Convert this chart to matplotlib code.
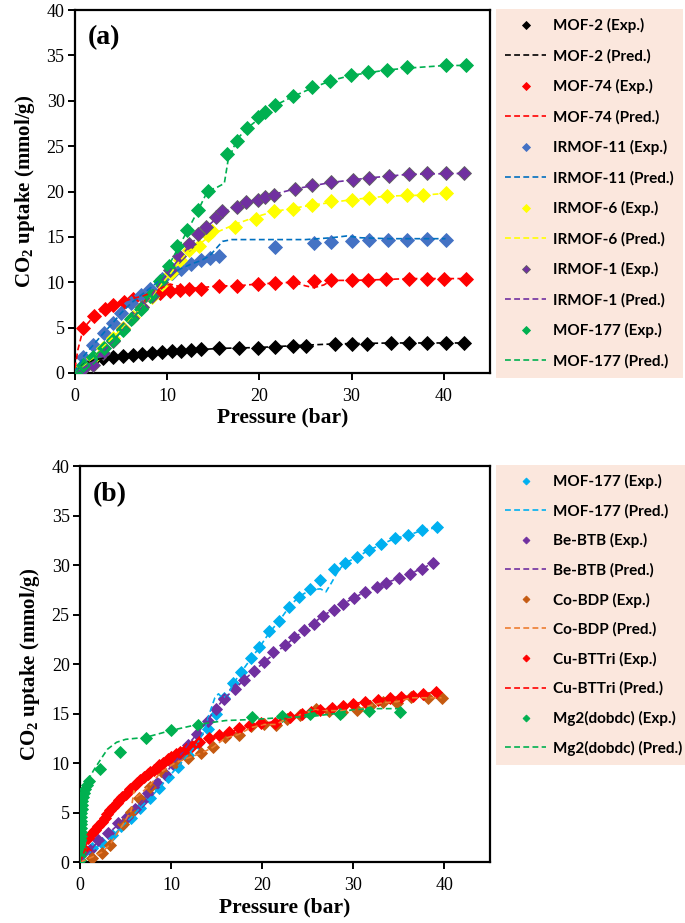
import matplotlib
matplotlib.use('Agg')
import matplotlib.pyplot as plt

# ---------- panel (a) data ----------
mof2_p = [2.0, 3.0, 4.1, 5.2, 6.3, 7.3, 8.3, 9.4, 10.5, 11.5, 12.6, 13.7, 15.6, 17.8, 19.9, 21.7,
          23.7, 25.1, 28.2, 30.0, 31.7, 34.3, 36.2, 38.2, 40.2, 42.2]
mof2_u = [1.4, 1.6, 1.8, 1.9, 2.0, 2.1, 2.2, 2.3, 2.4, 2.4, 2.5, 2.6, 2.7, 2.7, 2.8, 2.9,
          3.0, 3.0, 3.2, 3.2, 3.2, 3.3, 3.3, 3.3, 3.3, 3.3]
mof2_pred_p = [0, 0.5, 1.0, 2.0, 3.0, 4.1, 6.3, 9.4, 12.6, 15.6, 19.9, 23.7, 28.2, 34.3, 42.2]
mof2_pred_u = [0, 0.6, 1.0, 1.4, 1.6, 1.8, 2.0, 2.3, 2.5, 2.7, 2.8, 3.0, 3.2, 3.3, 3.3]

mof74_p = [0.9, 2.1, 3.2, 4.1, 5.3, 6.3, 7.4, 8.2, 9.2, 10.3, 11.4, 12.4, 13.7, 15.6, 17.6, 19.8,
           21.7, 23.7, 25.9, 27.8, 30.1, 31.8, 33.7, 36.2, 38.2, 40.0, 42.4]
mof74_u = [4.9, 6.3, 7.1, 7.5, 7.8, 8.2, 8.4, 8.6, 8.8, 9.0, 9.1, 9.3, 9.3, 9.6, 9.6, 9.8,
           9.9, 10.0, 10.1, 10.2, 10.2, 10.2, 10.3, 10.4, 10.4, 10.4, 10.4]
mof74_pred_p = [0, 0.3, 0.9, 2.1, 3.2, 4.1, 5.3, 6.3, 7.4, 8.2, 9.2, 10.3, 11.4, 12.4, 13.7, 15.6,
                17.6, 19.8, 21.7, 23.7, 25.0, 25.9, 27.0, 27.8, 30.1, 33.7, 36.2, 42.4]
mof74_pred_u = [0.5, 2.5, 4.9, 6.3, 7.1, 7.5, 7.9, 8.2, 8.5, 8.8, 9.3, 9.8, 9.5, 9.3, 9.4, 9.6,
                9.6, 9.8, 9.9, 10.0, 9.6, 9.4, 9.7, 10.2, 10.2, 10.3, 10.4, 10.4]

irmof11_p = [0.9, 2.0, 3.1, 4.1, 5.0, 6.1, 7.2, 8.1, 9.4, 10.5, 11.5, 12.6, 13.7, 14.6, 15.6,
             21.7, 25.9, 27.8, 30.0, 31.9, 34.0, 36.0, 38.2, 40.2]
irmof11_u = [1.8, 3.1, 4.4, 5.5, 6.6, 7.7, 8.6, 9.3, 10.4, 11.0, 11.5, 12.0, 12.4, 12.7, 12.9,
             13.9, 14.3, 14.4, 14.5, 14.7, 14.7, 14.7, 14.8, 14.7]
irmof11_pred_p = [0, 0.9, 2.0, 3.1, 4.1, 5.0, 6.1, 7.2, 8.1, 9.4, 10.5, 11.5, 12.6, 13.7, 14.6,
                  15.3, 16.0, 17.0, 19.0, 21.7, 25.0, 27.8, 29.5, 31.0, 34.0, 40.2]
irmof11_pred_u = [0, 1.8, 3.1, 4.4, 5.5, 6.6, 7.7, 8.6, 9.3, 10.4, 11.0, 11.5, 12.0, 12.4, 12.9,
                  13.7, 14.5, 14.7, 14.7, 14.7, 14.7, 14.9, 15.1, 14.9, 14.8, 14.8]

irmof6_p = [0.9, 2.0, 3.0, 4.1, 5.2, 6.3, 7.3, 8.3, 9.4, 10.4, 11.4, 12.4, 13.5, 14.4, 14.9,
            17.4, 19.6, 21.6, 23.6, 25.7, 27.8, 30.0, 31.9, 33.9, 36.0, 37.8, 40.2]
irmof6_u = [0.8, 1.6, 2.8, 3.9, 5.0, 6.2, 7.3, 8.4, 9.8, 11.0, 12.5, 13.6, 14.0, 15.2, 15.7,
            16.1, 17.0, 17.8, 18.1, 18.5, 18.9, 19.1, 19.3, 19.5, 19.6, 19.6, 19.8]
irmof6_pred_p = [0, 0.9, 2.0, 3.0, 4.1, 5.2, 6.3, 7.3, 8.3, 9.4, 10.4, 11.4, 12.4, 13.5, 14.9,
                 17.4, 19.6, 21.6, 25.7, 30.0, 33.9, 37.8, 40.2]
irmof6_pred_u = [0, 0.8, 1.7, 2.8, 3.9, 5.0, 6.2, 7.3, 8.4, 9.8, 11.0, 12.4, 13.5, 14.2, 15.3,
                 16.4, 17.2, 17.8, 18.5, 19.1, 19.5, 19.6, 19.8]

irmof1_p = [1.0, 2.0, 3.0, 4.1, 5.2, 6.2, 7.3, 8.3, 9.3, 10.3, 11.3, 12.4, 13.3, 14.2, 15.3, 16.0,
            17.6, 18.6, 19.8, 20.6, 21.6, 23.9, 25.7, 27.8, 30.2, 31.9, 34.1, 36.2, 38.2, 40.2, 42.2]
irmof1_u = [0.5, 0.9, 2.2, 3.5, 4.8, 6.0, 7.3, 8.5, 10.0, 11.4, 12.9, 14.2, 15.3, 16.1, 17.2, 17.8,
            18.3, 18.8, 19.1, 19.4, 19.6, 20.3, 20.7, 21.0, 21.3, 21.5, 21.7, 21.9, 22.0, 22.0, 22.0]
irmof1_pred_p = [0, 1.0, 2.0, 3.0, 4.1, 5.2, 6.2, 7.3, 8.3, 9.3, 10.3, 11.3, 12.4, 13.3, 14.2,
                 15.3, 16.0, 17.6, 19.8, 21.6, 23.9, 27.8, 31.9, 36.2, 42.2]
irmof1_pred_u = [0, 0.6, 1.2, 2.3, 3.5, 4.8, 6.0, 7.3, 8.5, 10.0, 11.3, 12.6, 14.0, 15.0, 16.0,
                 17.0, 17.7, 18.4, 19.2, 19.7, 20.3, 21.0, 21.5, 21.9, 22.0]

mof177a_p = [0, 0.9, 2.0, 3.1, 4.1, 5.2, 6.1, 7.2, 8.1, 9.2, 10.2, 11.1, 12.2, 13.3, 14.4, 16.5,
             17.6, 18.7, 19.8, 20.6, 21.7, 23.7, 25.7, 27.7, 29.9, 31.8, 33.8, 36.0, 40.2, 42.4]
mof177a_u = [0, 0.9, 1.8, 2.7, 3.6, 4.7, 5.9, 7.0, 8.5, 10.1, 11.8, 14.0, 15.8, 18.0, 20.1, 24.1,
             25.6, 27.0, 28.2, 28.8, 29.5, 30.5, 31.5, 32.2, 32.8, 33.2, 33.4, 33.7, 33.9, 33.9]
mof177a_pred_p = [0, 0.9, 2.0, 3.1, 4.1, 5.2, 6.1, 7.2, 8.1, 9.2, 10.2, 11.1, 12.2, 13.3, 14.4,
                  15.3, 16.2, 16.6, 17.6, 18.7, 19.8, 20.6, 21.7, 23.7, 25.7, 27.7, 29.9, 33.8, 36.0,
                  40.2, 42.4]
mof177a_pred_u = [0, 0.9, 1.8, 2.7, 3.6, 4.7, 5.9, 7.0, 8.6, 10.1, 11.9, 13.6, 15.7, 17.8, 20.1,
                  20.4, 20.9, 23.4, 25.8, 27.0, 27.9, 28.7, 29.5, 30.5, 31.4, 32.2, 32.8, 33.4, 33.6,
                  33.9, 33.9]

# ---------- panel (b) data ----------
mof177b_p = [1.3, 2.4, 3.5, 4.5, 5.6, 6.6, 7.7, 8.7, 9.6, 10.7, 11.8, 12.9, 14.0, 14.9, 15.8, 16.8,
             17.7, 18.8, 19.7, 20.8, 21.9, 22.9, 24.0, 25.3, 26.4, 27.9, 29.1, 30.4, 31.7, 33.1,
             34.6, 36.0, 37.5, 39.2]
mof177b_u = [1.4, 1.9, 2.7, 3.6, 4.5, 5.5, 6.5, 7.5, 8.6, 9.6, 10.8, 12.0, 13.4, 15.0, 16.6, 18.1,
             19.2, 20.6, 21.7, 23.3, 24.4, 25.8, 26.8, 27.6, 28.5, 29.6, 30.2, 30.8, 31.5, 32.1,
             32.7, 33.0, 33.5, 33.8]
mof177b_pred_p = [0, 1.3, 2.4, 3.5, 4.5, 5.6, 6.6, 7.7, 8.7, 9.6, 10.7, 11.8, 12.9, 13.6, 14.2,
                  14.8, 15.2, 15.6, 16.2, 16.8, 17.7, 18.8, 19.7, 20.8, 21.9, 22.9, 24.0, 25.3, 26.4,
                  27.0, 27.6, 28.4, 29.1, 30.4, 31.7, 33.1, 34.6, 36.0, 37.5, 39.2]
mof177b_pred_u = [0, 1.2, 1.8, 2.6, 3.5, 4.5, 5.5, 6.5, 7.5, 8.5, 9.6, 10.8, 12.0, 13.2, 15.0,
                  16.6, 17.0, 16.6, 16.8, 18.0, 19.2, 20.6, 21.7, 23.2, 24.4, 25.7, 26.8, 27.5, 27.6,
                  27.3, 28.2, 29.5, 30.2, 30.8, 31.5, 32.1, 32.7, 33.0, 33.5, 33.8]

bebtb_p = [1.1, 2.0, 3.1, 4.2, 5.1, 6.0, 6.8, 7.5, 8.4, 9.3, 10.2, 11.0, 11.8, 12.8, 14.0, 14.9,
           15.8, 17.0, 18.0, 19.1, 20.2, 21.2, 22.5, 23.5, 24.6, 25.7, 26.7, 27.9, 28.9, 30.1, 31.3,
           32.6, 33.6, 35.0, 36.2, 37.5, 38.8]
bebtb_u = [1.2, 2.2, 2.9, 3.9, 4.6, 5.4, 6.2, 7.0, 8.0, 8.9, 9.9, 10.8, 11.8, 12.9, 14.3, 15.5,
           16.5, 17.5, 18.4, 19.3, 20.2, 21.2, 21.9, 22.7, 23.4, 24.1, 24.9, 25.5, 26.1, 26.7, 27.3,
           27.8, 28.2, 28.7, 29.1, 29.6, 30.2]
bebtb_pred_p = [0, 1.1, 2.0, 3.1, 4.2, 5.1, 6.0, 6.8, 7.5, 8.4, 9.3, 10.2, 11.0, 11.8, 12.8, 14.0,
                14.9, 15.8, 17.0, 18.0, 20.2, 22.5, 24.6, 26.7, 28.9, 31.3, 33.6, 36.2, 38.8]
bebtb_pred_u = [0, 1.2, 2.1, 2.9, 3.8, 4.6, 5.4, 6.2, 7.0, 8.0, 8.9, 9.9, 10.8, 11.8, 12.9, 14.3,
                15.5, 16.5, 17.5, 18.4, 20.2, 21.9, 23.4, 24.9, 26.1, 27.3, 28.2, 29.1, 30.2]

cobdp_p = [1.3, 2.4, 3.3, 4.7, 5.6, 6.5, 7.7, 8.9, 10.4, 11.8, 13.3, 14.6, 15.9, 17.4, 18.8, 20.2,
           21.5, 22.7, 24.2, 25.9, 27.3, 28.8, 30.4, 31.8, 33.3, 34.8, 36.4, 38.2, 39.7]
cobdp_u = [0.4, 0.9, 1.7, 3.8, 5.1, 6.5, 7.6, 9.2, 10.0, 10.5, 11.0, 11.6, 12.6, 12.8, 13.7, 13.9,
           13.8, 14.5, 14.9, 15.5, 15.3, 15.2, 15.4, 15.8, 16.2, 16.1, 16.7, 16.6, 16.6]
cobdp_pred_p = [0, 1.3, 2.4, 3.3, 4.7, 5.6, 5.9, 6.2, 6.5, 7.7, 8.9, 10.4, 11.8, 13.3, 14.6, 15.9,
                17.4, 18.8, 20.2, 21.5, 22.7, 24.2, 25.9, 27.3, 28.8, 30.4, 31.8, 33.3, 34.8, 36.4,
                38.2, 39.7]
cobdp_pred_u = [0, 0.5, 1.0, 1.8, 3.8, 5.2, 7.2, 6.6, 6.8, 7.8, 9.1, 10.0, 10.5, 11.0, 11.6, 12.5,
                12.9, 13.6, 13.9, 13.9, 14.5, 14.9, 15.4, 15.3, 15.3, 15.4, 15.8, 16.1, 16.2, 16.6,
                16.6, 16.6]

cubttri_p = [0.5, 0.9, 1.3, 1.6, 2.0, 2.4, 2.7, 2.9, 3.3, 3.6, 4.0, 4.3, 4.6, 5.0, 5.5, 5.9, 6.2,
             6.6, 7.0, 7.4, 7.7, 8.1, 8.4, 8.7, 9.1, 9.6, 10.0, 10.5, 11.0, 11.6, 12.3, 13.1, 14.2,
             15.3, 16.4, 17.5, 18.7, 19.9, 21.4, 23.0, 24.4, 25.4, 26.4, 27.7, 28.9, 30.0, 31.3,
             32.7, 34.0, 35.3, 36.6, 37.7, 39.1]
cubttri_u = [1.2, 2.4, 2.9, 3.2, 3.6, 4.0, 4.5, 4.9, 5.3, 5.6, 6.0, 6.3, 6.6, 6.9, 7.4, 7.7, 8.0,
             8.3, 8.6, 8.9, 9.1, 9.3, 9.5, 9.8, 10.0, 10.4, 10.6, 10.9, 11.1, 11.4, 11.7, 12.1, 12.5,
             12.8, 13.1, 13.5, 13.8, 14.1, 14.0, 14.7, 15.0, 15.2, 15.4, 15.6, 15.8, 16.0, 16.2,
             16.4, 16.6, 16.7, 16.8, 17.0, 17.2]
cubttri_pred_p = [0, 0.5, 0.9, 1.6, 2.4, 3.3, 4.0, 4.4, 4.6, 5.0, 5.9, 7.0, 8.1, 9.1, 10.0, 11.0,
                  12.3, 14.2, 16.4, 18.7, 21.4, 24.4, 27.7, 31.3, 34.0, 36.6, 39.1]
cubttri_pred_u = [0, 1.2, 2.3, 3.2, 4.0, 5.3, 6.0, 6.9, 6.7, 6.9, 7.7, 8.6, 9.3, 10.0, 10.6, 11.1,
                  11.7, 12.5, 13.1, 13.8, 14.2, 15.0, 15.6, 16.2, 16.6, 16.8, 17.2]

mg2_p = [0, 0, 0.02, 0.03, 0.03, 0.04, 0.05, 0.06, 0.07, 0.08, 0.1, 0.12, 0.14, 0.16, 0.2, 0.25,
         0.3, 0.4, 0.5, 0.7, 0.95, 2.2, 4.4, 7.2, 10.0, 12.9, 18.9, 22.2, 25.3, 28.6, 31.7, 35.1]
mg2_u = [0.2, 0.6, 1.0, 1.4, 1.8, 2.2, 2.6, 3.0, 3.4, 3.8, 4.2, 4.6, 5.0, 5.4, 5.8, 6.2,
         6.6, 7.0, 7.4, 7.8, 8.2, 9.4, 11.1, 12.5, 13.3, 13.8, 14.7, 14.8, 15.0, 15.0, 15.3, 15.2]
mg2_pred_p = [0, 0.05, 0.1, 0.2, 0.4, 0.7, 1.0, 1.5, 2.2, 3.0, 4.0, 5.0, 7.2, 10.0, 12.9, 16.0,
              18.9, 22.2, 25.3, 28.0, 30.0, 32.0, 35.1]
mg2_pred_u = [0, 2.5, 4.5, 6.0, 7.2, 8.0, 8.5, 9.3, 10.3, 11.4, 12.1, 12.4, 12.6, 13.3, 13.9, 14.3,
              14.4, 14.6, 14.7, 15.0, 15.4, 15.5, 15.5]

panel_a = [
    ('MOF-2', '#000000', '#000000', mof2_p, mof2_u, mof2_pred_p, mof2_pred_u),
    ('MOF-74', '#FF0000', '#FF0000', mof74_p, mof74_u, mof74_pred_p, mof74_pred_u),
    ('IRMOF-11', '#4472C4', '#0070C0', irmof11_p, irmof11_u, irmof11_pred_p, irmof11_pred_u),
    ('IRMOF-6', '#FFFF00', '#FFFF00', irmof6_p, irmof6_u, irmof6_pred_p, irmof6_pred_u),
    ('IRMOF-1', '#7030A0', '#7030A0', irmof1_p, irmof1_u, irmof1_pred_p, irmof1_pred_u),
    ('MOF-177', '#00B050', '#00B050', mof177a_p, mof177a_u, mof177a_pred_p, mof177a_pred_u),
]
panel_b = [
    ('MOF-177', '#00B0F0', '#00B0F0', mof177b_p, mof177b_u, mof177b_pred_p, mof177b_pred_u),
    ('Be-BTB', '#7030A0', '#7030A0', bebtb_p, bebtb_u, bebtb_pred_p, bebtb_pred_u),
    ('Co-BDP', '#C55A11', '#ED7D31', cobdp_p, cobdp_u, cobdp_pred_p, cobdp_pred_u),
    ('Cu-BTTri', '#FF0000', '#FF0000', cubttri_p, cubttri_u, cubttri_pred_p, cubttri_pred_u),
    ('Mg2(dobdc)', '#00B050', '#00B050', mg2_p, mg2_u, mg2_pred_p, mg2_pred_u),
]

SERIF = 'Liberation Serif'
LEGEND_FONT = 'Lato'
LEGEND_BG = '#FBE2D5'


def draw_panel(ax, series, tag, ms, edge_override=None):
    for name, mcol, lcol, p, u, pp, pu in series:
        edge = mcol
        if edge_override and name in edge_override:
            edge = edge_override[name]
        ax.plot(p, u, ls='none', marker='D', ms=ms, color=mcol, mec=edge, mew=0.6,
                label=f'{name} (Exp.)', zorder=3)
        ax.plot(pp, pu, ls=(0, (3.5, 2)), lw=1.2, color=lcol, label=f'{name} (Pred.)', zorder=4)

    ax.set_xlim(0, 45)
    ax.set_ylim(0, 40)
    ax.set_xticks([0, 10, 20, 30, 40])
    ax.set_yticks(range(0, 41, 5))
    for s in ax.spines.values():
        s.set_linewidth(1.6)
    ax.tick_params(direction='out', length=5, width=1.4, labelsize=13)
    ax.tick_params(axis='x', pad=6)
    ax.tick_params(axis='y', pad=2.5)
    for lab in ax.get_xticklabels() + ax.get_yticklabels():
        lab.set_fontfamily(SERIF)
    ax.set_xlabel('Pressure (bar)', fontsize=15.5, fontweight='bold', family=SERIF, labelpad=2)
    ax.set_ylabel('CO$_2$ uptake (mmol/g)', fontsize=15, fontweight='bold', family=SERIF,
                  labelpad=7)
    ax.text(0.03, 0.96, tag, transform=ax.transAxes, fontsize=20, fontweight='bold',
            family=SERIF, va='top', ha='left')


plt.rcParams['mathtext.fontset'] = 'custom'
plt.rcParams['mathtext.rm'] = 'Liberation Serif:bold'
plt.rcParams['mathtext.it'] = 'Liberation Serif:bold'

fig = plt.figure(figsize=(6.85, 9.23), dpi=100)
ax1 = fig.add_axes([0.1095, 0.596, 0.6055, 0.393])
ax2 = fig.add_axes([0.117, 0.066, 0.598, 0.429])

draw_panel(ax1, panel_a, '(a)', 7.0, edge_override={'IRMOF-1': '#606060'})
draw_panel(ax2, panel_b, '(b)', 6.4)

for ax, spacing in ((ax1, 1.03), (ax2, 0.97)):
    leg = ax.legend(loc='upper left', bbox_to_anchor=(1.015, 1.003), borderaxespad=0,
                    frameon=True, fancybox=False, markerscale=0.55, handlelength=2.7,
                    handletextpad=0.45, labelspacing=spacing, borderpad=0.6,
                    prop={'family': LEGEND_FONT, 'weight': 'bold', 'size': 11})
    leg.get_frame().set_facecolor(LEGEND_BG)
    leg.get_frame().set_edgecolor('none')

fig.savefig('out.png', dpi=100)
